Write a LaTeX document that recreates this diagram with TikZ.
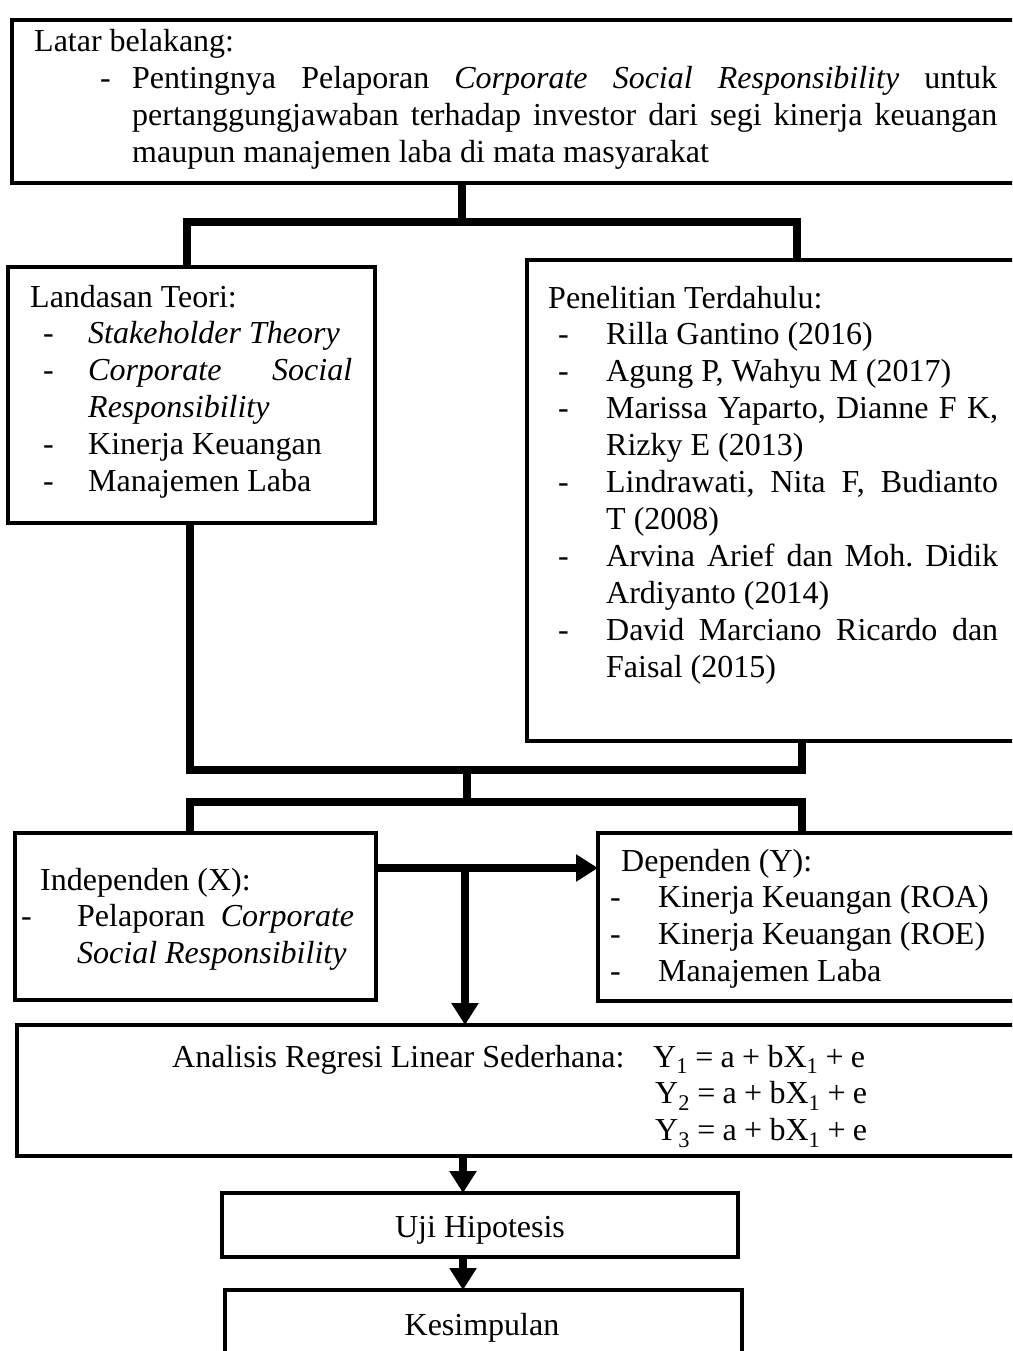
\documentclass[tikz,border=0pt]{standalone}
\usepackage{fontspec}
\setmainfont{Liberation Serif}
\usetikzlibrary{arrows.meta}
\hyphenpenalty=10000
\tolerance=10000
\hbadness=10000
\frenchspacing
% butir daftar: {geser tanda -}{indentasi teks}
\newcommand{\butir}[2]{\par\hangindent=#2\hangafter=1\noindent\hbox to #2{\hskip#1-\hfil}}
\tikzset{
  kotak/.style={draw, line width=4.5pt, inner sep=0pt, outer sep=0pt, anchor=north west},
  teks/.style={inner sep=0pt, anchor=base west, align=justify, font=\fontsize{32}{36.9}\selectfont},
  garis/.style={line width=8pt, line join=miter},
  panah/.style={line width=8pt, -{Triangle[length=22pt,width=26pt]}},
}
\begin{document}
\begin{tikzpicture}[x=1pt, y=-1pt]
    \useasboundingbox (0,0) rectangle (1012,1351);
    \clip (0,0) rectangle (1012,1351);
    % kotak
    \node[kotak, minimum width=1008pt, minimum height=163pt] (latar) at (12,20) {};
    \node[kotak, minimum width=367pt, minimum height=256pt] (landasan) at (8,267) {};
    \node[kotak, minimum width=493pt, minimum height=481pt] (penelitian) at (527,260) {};
    \node[kotak, minimum width=361pt, minimum height=167pt] (indep) at (15,833) {};
    \node[kotak, minimum width=422pt, minimum height=168pt] (depen) at (598,833) {};
    \node[kotak, minimum width=1003pt, minimum height=131pt] (analisis) at (17,1025) {};
    \node[kotak, minimum width=516pt, minimum height=64pt] (uji) at (222,1193) {};
    \node[kotak, minimum width=517pt, minimum height=100pt] (kesimpulan) at (225,1290) {};
    % isi
    \node[teks, text width=963pt] (latartxt) at (34,52) {Latar belakang:\butir{66pt}{98pt}Pentingnya Pelaporan \textit{Corporate Social Responsibility} untuk\linebreak pertanggungjawaban terhadap investor dari segi kinerja keuangan\linebreak maupun manajemen laba di mata masyarakat\par};
    \node[teks, text width=322pt] (landasantxt) at (30,307) {Landasan Teori:\butir{13pt}{58pt}\textit{Stakeholder Theory}\butir{13pt}{58pt}\textit{Corporate Social\linebreak Responsibility}\butir{13pt}{58pt}Kinerja Keuangan\butir{13pt}{58pt}Manajemen Laba\par};
    \node[teks, text width=450pt] (penelitiantxt) at (548,308) {Penelitian Terdahulu:\butir{10pt}{58pt}Rilla Gantino (2016)\butir{10pt}{58pt}Agung P, Wahyu M (2017)\butir{10pt}{58pt}Marissa Yaparto, Dianne F K,\linebreak Rizky E (2013)\butir{10pt}{58pt}Lindrawati, Nita F, Budianto\linebreak T (2008)\butir{10pt}{58pt}Arvina Arief dan Moh. Didik\linebreak Ardiyanto (2014)\butir{10pt}{58pt}David Marciano Ricardo dan\linebreak Faisal (2015)\par};
    \node[teks, text width=337pt] (indeptxt) at (17,890) {\hspace*{23pt}Independen (X):\butir{4pt}{60pt}Pelaporan \textit{Corporate\linebreak Social Responsibility}\par};
    \node[teks, text width=400pt] (depentxt) at (610,871) {\hspace*{11pt}Dependen (Y):\butir{0pt}{48pt}Kinerja Keuangan (ROA)\butir{0pt}{48pt}Kinerja Keuangan (ROE)\butir{0pt}{48pt}Manajemen Laba\par};
    \node[teks] (analisistxt) at (172,1067) {Analisis Regresi Linear Sederhana:};
    \node[teks, text width=300pt, align=left] (rumus) at (653,1067) {\spaceskip=7.3pt Y\textsubscript{1} = a + bX\textsubscript{1} + e\\\hspace*{2pt}Y\textsubscript{2} = a + bX\textsubscript{1} + e\\\hspace*{2pt}Y\textsubscript{3} = a + bX\textsubscript{1} + e};
    \node[teks, anchor=base] (ujitxt) at (480,1237) {Uji Hipotesis};
    \node[teks, anchor=base] (kesimpulantxt) at (482,1335) {Kesimpulan};
    % penghubung
    \coordinate (j1) at (462,222);
    \coordinate (kiri1) at (187,222);
    \coordinate (kanan1) at (797,222);
    \draw[garis] (latar.south -| j1) -- (j1);
    \draw[garis] (landasan.north -| kiri1) -- (kiri1) -- (kanan1) -- (penelitian.north -| kanan1);
    \coordinate (j2) at (467,770);
    \coordinate (kiri2) at (190,770);
    \coordinate (kanan2) at (802,770);
    \coordinate (kiri3) at (190,802);
    \coordinate (kanan3) at (802,802);
    \draw[garis] (landasan.south -| kiri2) -- (kiri2) -- (kanan2) -- (penelitian.south -| kanan2);
    \draw[garis] (j2) -- (j2 |- kiri3);
    \draw[garis] (indep.north -| kiri3) -- (kiri3) -- (kanan3) -- (depen.north -| kanan3);
    % panah
    \coordinate (ax) at (465,868);
    \coordinate (ay) at (463,0);
    \draw[panah] (indep.east |- ax) -- (depen.west |- ax);
    \draw[panah] (ax) -- (analisis.north -| ax);
    \draw[panah] (analisis.south -| ay) -- (uji.north -| ay);
    \draw[panah] (uji.south -| ay) -- (kesimpulan.north -| ay);
\end{tikzpicture}
\end{document}
